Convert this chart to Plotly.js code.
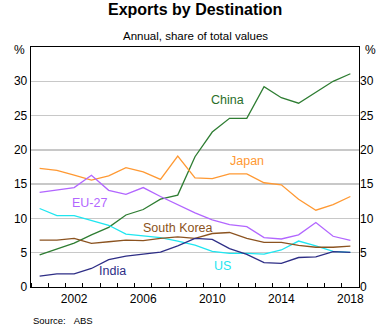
<!DOCTYPE html>
<html>
<head>
<meta charset="utf-8">
<script src="https://cdn.plot.ly/plotly-3.0.1.min.js"></script>
<style>html,body{margin:0;padding:0;background:#fff;}#chart{width:391px;height:335px;}</style>
</head>
<body>
<div id="chart"></div>
<script>
var years = [2000,2001,2002,2003,2004,2005,2006,2007,2008,2009,2010,2011,2012,2013,2014,2015,2016,2017,2018];
var china = [4.7,5.5,6.4,7.6,8.7,10.5,11.3,12.8,13.4,19.0,22.6,24.6,24.6,29.2,27.6,26.8,28.4,30.0,31.1];
var japan = [17.3,17.0,16.3,15.6,16.2,17.4,16.8,15.7,19.1,15.9,15.8,16.5,16.5,15.2,14.9,12.8,11.2,12.0,13.2];
var eu27 = [13.8,14.1,14.5,16.3,14.1,13.5,14.5,13.2,12.0,10.8,9.8,9.1,8.8,7.2,7.0,7.6,9.4,7.4,6.8];
var us = [11.45,10.4,10.4,9.75,9.0,7.7,7.5,7.2,6.7,6.1,5.2,4.9,4.9,4.8,5.4,6.7,6.0,5.2,5.05];
var southKorea = [6.85,6.85,7.1,6.35,6.6,6.85,6.75,7.1,7.3,7.1,7.8,7.95,7.1,6.5,6.5,6.07,5.8,5.8,5.97];
var india = [1.6,1.9,1.9,2.7,4.0,4.5,4.8,5.1,6.0,7.1,6.95,5.6,4.75,3.55,3.45,4.3,4.4,5.15,5.05];
var xTickVals = [2002,2006,2010,2014,2018];
var xTickText = ['2002','2006','2010','2014','2018'];
var yTickVals = [0,5,10,15,20,25,30];
var yTickText = ['0','5','10','15','20','25','30'];

var series = [
  {name:'China', y:china, color:'#2e7d32'},
  {name:'Japan', y:japan, color:'#ff9933'},
  {name:'EU-27', y:eu27, color:'#b266ff'},
  {name:'US', y:us, color:'#1fe6f0'},
  {name:'South Korea', y:southKorea, color:'#8b5320'},
  {name:'India', y:india, color:'#2e2e86'}
];
var traces = series.map(function(s){
  return {x:years, y:s.y, type:'scatter', mode:'lines', name:s.name,
    line:{color:s.color, width:1.3}, hoverinfo:'skip'};
});
// invisible trace for right axis
traces.push({x:[years[0]], y:[0], yaxis:'y2', type:'scatter', mode:'markers', marker:{opacity:0}, hoverinfo:'skip', showlegend:false});

var font = 'Liberation Sans, Arial, sans-serif';
var layout = {
  width:391, height:335,
  margin:{l:31, r:32, t:47, b:48},
  paper_bgcolor:'#fff', plot_bgcolor:'#fff',
  showlegend:false,
  font:{family:font, size:12, color:'#000'},
  xaxis:{range:[1999.5,2018.5], tickmode:'array', tickvals:xTickVals, ticktext:xTickText,
    ticks:'', showgrid:false, zeroline:false, showline:true, linecolor:'#000', linewidth:1.3, mirror:true,
    tickfont:{family:font,size:12,color:'#000'},
    minor:{tick0:1999.5, dtick:1, ticks:'inside', ticklen:4, tickwidth:1, tickcolor:'#000', showgrid:false}},
  yaxis:{range:[0,35], tickmode:'array', tickvals:yTickVals, ticktext:yTickText, ticks:'',
    showgrid:true, gridcolor:'#c8c8c8', gridwidth:1.3, zeroline:false,
    showline:true, linecolor:'#000', linewidth:1.3, mirror:true,
    tickfont:{family:font,size:12,color:'#000'}},
  yaxis2:{range:[0,35], overlaying:'y', side:'right', tickmode:'array', tickvals:yTickVals, ticktext:yTickText,
    ticks:'', showgrid:false, zeroline:false, showline:false, tickfont:{family:font,size:12,color:'#000'}},
  annotations:[
    {text:'<b>Exports by Destination</b>', xref:'paper', yref:'paper', x:0.5, y:1, yshift:38, xanchor:'center', yanchor:'middle', showarrow:false, font:{family:font,size:16,color:'#000'}},
    {text:'Annual, share of total values', xref:'paper', yref:'paper', x:0.5, y:1, yshift:11, xanchor:'center', yanchor:'middle', showarrow:false, font:{family:font,size:11.5,color:'#000'}},
    {text:'%', xref:'paper', yref:'y', x:0, y:35, xshift:-4, yshift:-3, xanchor:'right', yanchor:'middle', showarrow:false, font:{family:font,size:12,color:'#000'}},
    {text:'%', xref:'paper', yref:'y', x:1, y:35, xshift:4, yshift:-3, xanchor:'left', yanchor:'middle', showarrow:false, font:{family:font,size:12,color:'#000'}},
    {text:'Source:&nbsp;&nbsp;&nbsp;ABS', xref:'paper', yref:'paper', x:0, y:0, yshift:-33, xanchor:'left', yanchor:'middle', showarrow:false, font:{family:font,size:9.5,color:'#000'}},
    {text:'China', x:2010.9, y:27.2, xref:'x', yref:'y', showarrow:false, font:{family:font,size:12.5,color:'#2a6e2a'}},
    {text:'Japan', x:2012.0, y:18.4, xref:'x', yref:'y', showarrow:false, font:{family:font,size:12.5,color:'#ff9933'}},
    {text:'EU-27', x:2002.9, y:12.3, xref:'x', yref:'y', showarrow:false, font:{family:font,size:12.5,color:'#b266ff'}},
    {text:'South Korea', x:2008.0, y:8.6, xref:'x', yref:'y', showarrow:false, font:{family:font,size:12.5,color:'#8b5320'}},
    {text:'India', x:2004.2, y:2.4, xref:'x', yref:'y', showarrow:false, font:{family:font,size:12.5,color:'#2e2e86'}},
    {text:'US', x:2010.6, y:3.1, xref:'x', yref:'y', showarrow:false, font:{family:font,size:12.5,color:'#1fe6f0'}}
  ]
};
Plotly.newPlot('chart', traces, layout, {staticPlot:true, displayModeBar:false});
</script>
</body>
</html>
